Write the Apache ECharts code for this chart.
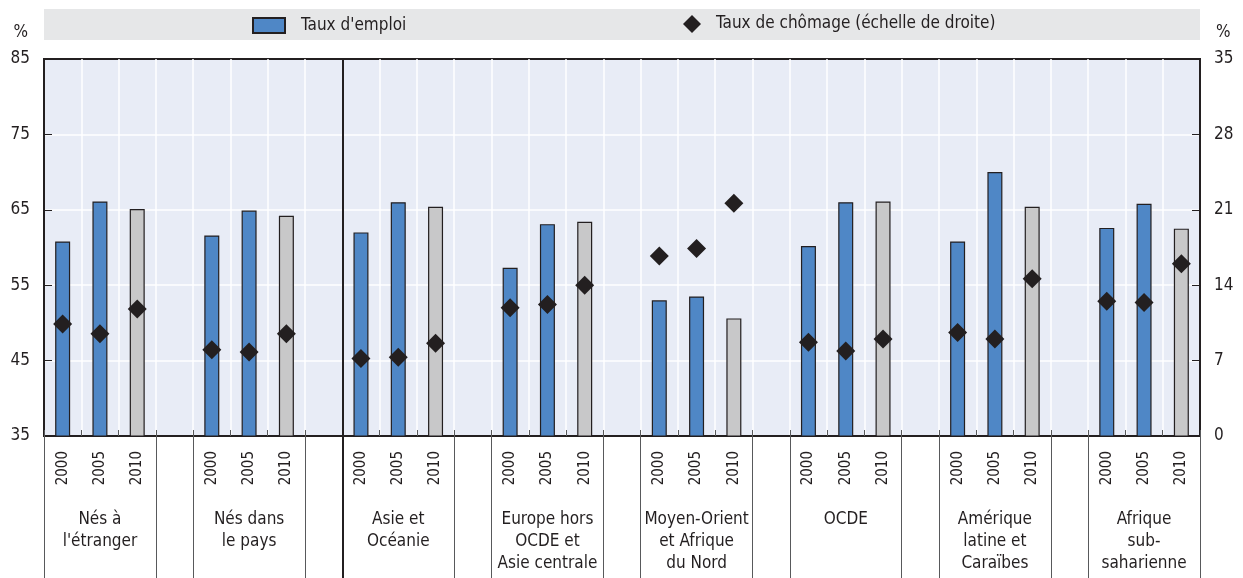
<!DOCTYPE html>
<html>
<head>
<meta charset="utf-8">
<title>Taux d'emploi et taux de chômage</title>
<script src="https://cdn.jsdelivr.net/npm/echarts@6/dist/echarts.min.js"></script>
<style>
  html, body { margin: 0; padding: 0; background: #fff; }
  #chart { width: 1243px; height: 578px; }
</style>
</head>
<body>
<div id="chart"></div>
<script>
// groupes (un groupe = 3 années)
var groups = ["Nés à\nl'étranger", "Nés dans\nle pays", "Asie et\nOcéanie", "Europe hors\nOCDE et\nAsie centrale",
  "Moyen-Orient\net Afrique\ndu Nord", "OCDE", "Amérique\nlatine et\nCaraïbes", "Afrique\nsub-\nsaharienne"];
var years = ['2000', '2005', '2010'];

// taux d'emploi (%), échelle de gauche
var emploi2000 = [60.8, 61.6, 62.0, 57.3, 53.0, 60.2, 60.8, 62.6];
var emploi2005 = [66.1, 64.9, 66.0, 63.1, 53.5, 66.0, 70.0, 65.8];
var emploi2010 = [65.1, 64.2, 65.4, 63.4, 50.6, 66.1, 65.4, 62.5];

// taux de chômage (%), échelle de droite
var chomage2000 = [10.4, 8.0, 7.2, 11.9, 16.7, 8.7, 9.6, 12.5];
var chomage2005 = [9.5, 7.8, 7.3, 12.2, 17.4, 7.9, 9.0, 12.4];
var chomage2010 = [11.8, 9.5, 8.6, 14.0, 21.6, 9.0, 14.6, 16.0];

// le trait noir sépare les deux premiers groupes des régions
var dividerBeforeGroup = 2;

var ink = '#231f20';
var font = "'Liberation Sans Narrow', 'Arial Narrow', 'DejaVu Sans Condensed', sans-serif";

// 3 emplacements par groupe + un emplacement vide entre deux groupes
var slots = [], emploiData = [], chomageData = [];
var sepValues = [], labelValues = [];
for (var g = 0; g < groups.length; g++) {
  var e = [emploi2000[g], emploi2005[g], emploi2010[g]];
  var c = [chomage2000[g], chomage2005[g], chomage2010[g]];
  sepValues.push(slots.length, slots.length + years.length);
  labelValues.push(slots.length + years.length / 2);
  for (var y = 0; y < years.length; y++) {
    slots.push(years[y]);
    emploiData.push(y == 2 ? {value: e[y], itemStyle: {color: '#c8c8c9'}} : e[y]);
    chomageData.push(c[y]);
  }
  if (g < groups.length - 1) {
    slots.push('');
    emploiData.push('-');
    chomageData.push('-');
  }
}
var dividerValue = dividerBeforeGroup * (years.length + 1);

var chart = echarts.init(document.getElementById('chart'));
var option = {
  animation: false,
  textStyle: {fontFamily: font, color: ink},
  graphic: [{
    type: 'rect', left: 44, top: 9, z: -10,
    shape: {width: 1156, height: 31},
    style: {fill: '#e6e7e8'}
  }],
  legend: [{
    data: ["Taux d'emploi"],
    icon: 'rect',
    left: 252, top: 17, padding: 0,
    itemWidth: 32, itemHeight: 15,
    textStyle: {fontFamily: font, fontSize: 17, color: ink, padding: [0, 0, 0, 11]}
  }, {
    data: ['Taux de chômage (échelle de droite)'],
    left: 683, top: 15, padding: 0,
    itemWidth: 18, itemHeight: 18,
    textStyle: {fontFamily: font, fontSize: 17, color: ink, padding: [0, 0, 0, 10]}
  }],
  grid: {
    left: 44, right: 43, top: 59, bottom: 142,
    show: true, backgroundColor: '#e8ecf6',
    borderColor: ink, borderWidth: 2,
    outerBoundsMode: 'none'
  },
  xAxis: [{
    type: 'category',
    data: slots,
    boundaryGap: true,
    axisLine: {show: true, onZero: false, lineStyle: {color: ink, width: 2}},
    axisTick: {show: true, inside: true, length: 6, interval: 0, lineStyle: {color: '#58595b'}},
    splitLine: {show: true, interval: 0, showMinLine: false, showMaxLine: false, lineStyle: {color: '#ffffff', width: 1.5}},
    axisLabel: {interval: 0, rotate: 90, margin: 15, fontSize: 15, color: ink, fontFamily: font}
  }, {
    // étiquettes des groupes et traits de séparation
    type: 'value', min: 0, max: slots.length, position: 'bottom',
    axisLine: {show: false, onZero: false},
    splitLine: {show: false},
    axisTick: {show: true, customValues: sepValues, length: 142, lineStyle: {color: '#58595b', width: 1}},
    axisLabel: {
      show: true, customValues: labelValues, margin: 73,
      fontSize: 17, lineHeight: 22, color: ink, fontFamily: font,
      formatter: function (v) { return groups[labelValues.indexOf(v)]; }
    }
  }, {
    type: 'value', min: 0, max: slots.length, position: 'bottom',
    axisLine: {show: false, onZero: false},
    splitLine: {show: false},
    axisTick: {show: true, customValues: [dividerValue], length: 142, lineStyle: {color: ink, width: 2}},
    axisLabel: {show: false}
  }],
  yAxis: [{
    type: 'value', min: 35, max: 85, interval: 10, position: 'left',
    name: '%', nameLocation: 'end', nameGap: 18,
    nameTextStyle: {fontSize: 17, color: ink, fontFamily: font, align: 'right', padding: [0, 16, 0, 0]},
    axisLine: {show: true, onZero: false, lineStyle: {color: ink, width: 2}},
    axisTick: {show: true, inside: true, length: 8, lineStyle: {color: ink}},
    splitLine: {show: true, showMinLine: false, showMaxLine: false, lineStyle: {color: '#ffffff', width: 1.5}},
    axisLabel: {margin: 14, fontSize: 17, color: ink, fontFamily: font}
  }, {
    type: 'value', min: 0, max: 35, interval: 7, position: 'right',
    name: '%', nameLocation: 'end', nameGap: 18,
    nameTextStyle: {fontSize: 17, color: ink, fontFamily: font, align: 'left', padding: [0, 0, 0, 16]},
    axisLine: {show: true, onZero: false, lineStyle: {color: ink, width: 2}},
    axisTick: {show: true, inside: true, length: 8, lineStyle: {color: ink}},
    splitLine: {show: false},
    axisLabel: {margin: 14, fontSize: 17, color: ink, fontFamily: font}
  }],
  series: [{
    name: "Taux d'emploi",
    type: 'bar',
    xAxisIndex: 0, yAxisIndex: 0,
    barWidth: 15,
    itemStyle: {color: '#4f87c6', borderColor: ink, borderWidth: 1.2},
    data: emploiData
  }, {
    name: 'Taux de chômage (échelle de droite)',
    type: 'scatter',
    xAxisIndex: 0, yAxisIndex: 1,
    symbol: 'diamond', symbolSize: 19,
    itemStyle: {color: ink, opacity: 1},
    z: 5,
    data: chomageData
  }, {
    // trait noir vertical dans la zone de tracé
    type: 'line',
    xAxisIndex: 2, yAxisIndex: 0,
    data: [],
    markLine: {
      silent: true, symbol: 'none', label: {show: false},
      lineStyle: {color: ink, width: 2, type: 'solid'},
      data: [{xAxis: dividerValue}]
    }
  }]
};
chart.setOption(option);
</script>
</body>
</html>
